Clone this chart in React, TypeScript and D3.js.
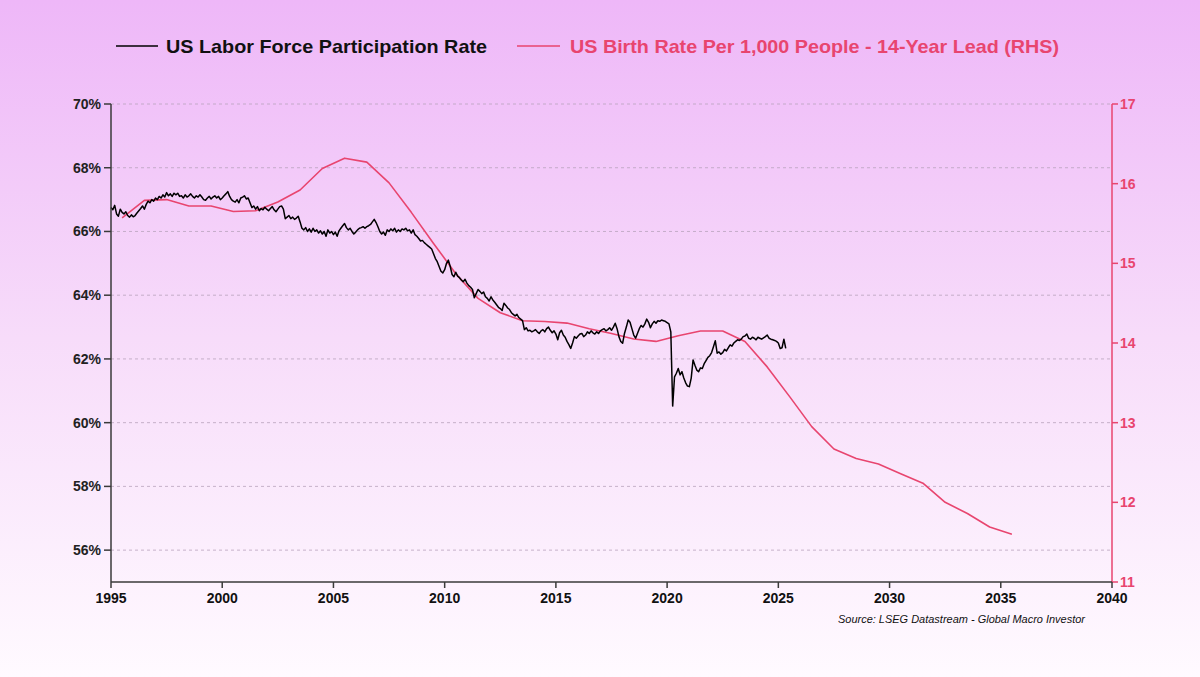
import * as d3 from "d3"

// US labor force participation rate, monthly, Jan 1995 onwards (%)
const lfprStartYear = 1995
const lfpr1995 = [66.75, 66.68, 66.82, 66.55, 66.48, 66.70, 66.60, 66.55, 66.62, 66.50, 66.45, 66.52]
const lfpr1996 = [66.46, 66.50, 66.58, 66.65, 66.72, 66.80, 66.70, 66.85, 66.95, 66.90, 67.00, 66.95]
const lfpr1997 = [67.05, 67.00, 67.10, 67.05, 67.15, 67.08, 67.22, 67.12, 67.18, 67.10, 67.20, 67.15]
const lfpr1998 = [67.20, 67.10, 67.12, 67.05, 67.15, 67.08, 67.12, 67.18, 67.10, 67.05, 67.12, 67.08]
const lfpr1999 = [67.15, 67.08, 67.00, 66.98, 67.05, 67.10, 67.02, 67.08, 67.12, 67.05, 67.10, 67.00]
const lfpr2000 = [67.05, 67.12, 67.18, 67.25, 67.10, 67.00, 66.95, 66.92, 67.00, 66.90, 67.05, 67.08]
const lfpr2001 = [67.12, 67.02, 67.05, 66.90, 66.75, 66.80, 66.70, 66.78, 66.65, 66.72, 66.68, 66.76]
const lfpr2002 = [66.70, 66.65, 66.72, 66.78, 66.68, 66.62, 66.70, 66.78, 66.80, 66.70, 66.40, 66.45]
const lfpr2003 = [66.50, 66.40, 66.45, 66.38, 66.42, 66.48, 66.30, 66.10, 66.05, 66.12, 66.00, 66.08]
const lfpr2004 = [65.98, 66.10, 66.00, 66.05, 65.95, 66.02, 65.92, 66.00, 65.85, 66.05, 65.95, 66.00]
const lfpr2005 = [65.90, 65.98, 65.85, 66.02, 66.10, 66.18, 66.25, 66.12, 66.05, 66.10, 66.00, 65.92]
const lfpr2006 = [65.98, 66.05, 66.10, 66.12, 66.15, 66.10, 66.15, 66.18, 66.22, 66.30, 66.38, 66.28]
const lfpr2007 = [66.15, 66.00, 65.92, 65.98, 65.88, 66.05, 66.00, 66.08, 66.02, 66.10, 65.98, 66.05]
const lfpr2008 = [66.00, 66.08, 66.05, 66.10, 66.02, 66.05, 65.95, 66.05, 65.90, 65.85, 65.78, 65.70]
const lfpr2009 = [65.72, 65.65, 65.60, 65.55, 65.50, 65.45, 65.30, 65.15, 65.05, 64.90, 64.75, 64.70]
const lfpr2010 = [64.80, 65.00, 65.10, 64.90, 64.65, 64.58, 64.72, 64.60, 64.55, 64.48, 64.42, 64.50]
const lfpr2011 = [64.38, 64.30, 64.25, 64.18, 63.92, 64.05, 64.18, 64.12, 64.05, 64.10, 63.95, 63.90]
const lfpr2012 = [63.82, 63.95, 63.85, 63.78, 63.70, 63.62, 63.58, 63.52, 63.75, 63.68, 63.60, 63.55]
const lfpr2013 = [63.45, 63.40, 63.35, 63.40, 63.30, 63.25, 63.20, 62.92, 62.98, 62.88, 62.90, 62.85]
const lfpr2014 = [62.88, 62.92, 62.85, 62.80, 62.88, 62.92, 62.85, 62.95, 63.00, 62.90, 62.82, 62.88]
const lfpr2015 = [62.78, 62.60, 62.82, 62.90, 62.75, 62.68, 62.55, 62.45, 62.33, 62.50, 62.70, 62.65]
const lfpr2016 = [62.72, 62.78, 62.80, 62.70, 62.75, 62.85, 62.80, 62.88, 62.82, 62.78, 62.85, 62.80]
const lfpr2017 = [62.88, 62.92, 62.95, 62.88, 62.92, 62.98, 62.90, 63.00, 63.12, 62.95, 62.70, 62.55]
const lfpr2018 = [62.49, 62.80, 63.00, 63.22, 63.15, 62.95, 62.75, 62.65, 62.80, 62.95, 63.05, 63.00]
const lfpr2019 = [63.10, 63.25, 63.15, 62.98, 63.10, 63.18, 63.12, 63.20, 63.18, 63.22, 63.20, 63.18]
const lfpr2020 = [63.14, 63.10, 62.85, 60.52, 61.44, 61.55, 61.70, 61.50, 61.60, 61.40, 61.25, 61.15]
const lfpr2021 = [61.13, 61.40, 61.97, 61.80, 61.65, 61.60, 61.72, 61.70, 61.85, 61.95, 62.05, 62.10]
const lfpr2022 = [62.20, 62.38, 62.57, 62.18, 62.22, 62.15, 62.20, 62.30, 62.25, 62.35, 62.44, 62.40]
const lfpr2023 = [62.50, 62.55, 62.60, 62.58, 62.62, 62.70, 62.72, 62.78, 62.65, 62.62, 62.68, 62.65]
const lfpr2024 = [62.60, 62.68, 62.65, 62.62, 62.66, 62.70, 62.75, 62.65, 62.62, 62.60, 62.58, 62.55]
const lfpr2025 = [62.50, 62.33, 62.35, 62.62, 62.33]

const lfprYears = [
  lfpr1995, lfpr1996, lfpr1997, lfpr1998, lfpr1999, lfpr2000, lfpr2001, lfpr2002,
  lfpr2003, lfpr2004, lfpr2005, lfpr2006, lfpr2007, lfpr2008, lfpr2009, lfpr2010,
  lfpr2011, lfpr2012, lfpr2013, lfpr2014, lfpr2015, lfpr2016, lfpr2017, lfpr2018,
  lfpr2019, lfpr2020, lfpr2021, lfpr2022, lfpr2023, lfpr2024, lfpr2025,
]

// US birth rate per 1,000 people, shifted 14 years forward (plotted mid-year)
const birthYears = [
  1995.5, 1996.5, 1997.5, 1998.5, 1999.5, 2000.5, 2001.5, 2002.5, 2003.5, 2004.5,
  2005.5, 2006.5, 2007.5, 2008.5, 2009.5, 2010.5, 2011.5, 2012.5, 2013.5, 2014.5,
  2015.5, 2016.5, 2017.5, 2018.5, 2019.5, 2020.5, 2021.5, 2022.5, 2023.5, 2024.5,
  2025.5, 2026.5, 2027.5, 2028.5, 2029.5, 2030.5, 2031.5, 2032.5, 2033.5, 2034.5,
  2035.5,
]
const birthRate = [
  15.57, 15.79, 15.80, 15.72, 15.72, 15.65, 15.66, 15.77, 15.92, 16.19,
  16.32, 16.27, 16.01, 15.64, 15.25, 14.87, 14.56, 14.38, 14.28, 14.27,
  14.25, 14.18, 14.12, 14.05, 14.02, 14.09, 14.15, 14.15, 14.02, 13.70,
  13.33, 12.95, 12.67, 12.55, 12.48, 12.36, 12.24, 12.00, 11.86, 11.69,
  11.60,
]

const xTicks = [1995, 2000, 2005, 2010, 2015, 2020, 2025, 2030, 2035, 2040]
const leftTicks = [56, 58, 60, 62, 64, 66, 68, 70]
const rightTicks = [11, 12, 13, 14, 15, 16, 17]

const W = 1200
const H = 677
const margin = { top: 104, right: 88, bottom: 95, left: 111 }
const PINK = "#E8456F"
const AXIS = "#3a3a3a"
const FONT = "'Liberation Sans', Arial, sans-serif"

export default function App() {
  const x = d3.scaleLinear().domain([1995, 2040]).range([margin.left, W - margin.right])
  const yL = d3.scaleLinear().domain([55, 70]).range([H - margin.bottom, margin.top])
  const yR = d3.scaleLinear().domain([11, 17]).range([H - margin.bottom, margin.top])

  const lfpr = lfprYears.flatMap((vals, yi) =>
    vals.map((v, m) => ({ t: lfprStartYear + yi + m / 12, v })),
  )
  const birth = birthYears.map((t, i) => ({ t, v: birthRate[i] }))

  const lfprLine = d3
    .line<{ t: number; v: number }>()
    .x((d) => x(d.t))
    .y((d) => yL(d.v))
  const birthLine = d3
    .line<{ t: number; v: number }>()
    .x((d) => x(d.t))
    .y((d) => yR(d.v))

  const x0 = x.range()[0]
  const x1 = x.range()[1]
  const yBottom = yL.range()[0]

  return (
    <svg
      width={W}
      height={H}
      style={{ position: "absolute", left: 0, top: 0, display: "block" }}
      fontFamily={FONT}
    >
      <defs>
        <linearGradient id="bg" x1="0" y1="0" x2="0" y2="1">
          <stop offset="0" stopColor="#EEB7F8" />
          <stop offset="0.5" stopColor="#F7DCFA" />
          <stop offset="1" stopColor="#FFFAFF" />
        </linearGradient>
      </defs>
      <rect width={W} height={H} fill="url(#bg)" />

      {/* Legend */}
      <line x1={116} x2={158} y1={46} y2={46} stroke="#000" strokeWidth={1.5} />
      <text x={166} y={53} fontSize={19} fontWeight="bold" fill="#111" textLength={321} lengthAdjust="spacingAndGlyphs">
        US Labor Force Participation Rate
      </text>
      <line x1={517} x2={560} y1={46} y2={46} stroke={PINK} strokeWidth={1.5} />
      <text x={570} y={53} fontSize={19} fontWeight="bold" fill={PINK} textLength={489} lengthAdjust="spacingAndGlyphs">
        US Birth Rate Per 1,000 People - 14-Year Lead (RHS)
      </text>

      {/* Gridlines */}
      {leftTicks.map((t) => (
        <line
          key={`g${t}`}
          x1={x0}
          x2={x1}
          y1={yL(t)}
          y2={yL(t)}
          stroke="#B9A3BC"
          strokeWidth={0.8}
          strokeDasharray="3,3"
        />
      ))}

      {/* Series */}
      <path d={birthLine(birth) ?? ""} fill="none" stroke={PINK} strokeWidth={1.6} strokeLinejoin="round" />
      <path d={lfprLine(lfpr) ?? ""} fill="none" stroke="#000" strokeWidth={1.5} strokeLinejoin="round" />

      {/* Left axis */}
      <line x1={x0} x2={x0} y1={margin.top} y2={yBottom} stroke={AXIS} strokeWidth={1.5} />
      {leftTicks.map((t) => (
        <g key={`l${t}`}>
          <line x1={x0 - 7} x2={x0} y1={yL(t)} y2={yL(t)} stroke={AXIS} strokeWidth={1.5} />
          <text x={x0 - 10} y={yL(t) + 5} textAnchor="end" fontSize={14} fontWeight="bold" fill="#222">
            {t}%
          </text>
        </g>
      ))}

      {/* Right axis */}
      <line x1={x1} x2={x1} y1={margin.top} y2={yBottom} stroke={PINK} strokeWidth={1.5} />
      {rightTicks.map((t) => (
        <g key={`r${t}`}>
          <line x1={x1} x2={x1 + 6} y1={yR(t)} y2={yR(t)} stroke={PINK} strokeWidth={1.5} />
          <text x={x1 + 8} y={yR(t) + 5} fontSize={14} fontWeight="bold" fill={PINK}>
            {t}
          </text>
        </g>
      ))}

      {/* Bottom axis */}
      <line x1={x0} x2={x1} y1={yBottom} y2={yBottom} stroke={AXIS} strokeWidth={1.5} />
      {xTicks.map((t) => (
        <g key={`x${t}`}>
          <line x1={x(t)} x2={x(t)} y1={yBottom} y2={yBottom + 6} stroke={AXIS} strokeWidth={1.5} />
          <text x={x(t)} y={yBottom + 21} textAnchor="middle" fontSize={14} fontWeight="bold" fill="#111">
            {t}
          </text>
        </g>
      ))}

      {/* Source */}
      <text x={1085} y={623} textAnchor="end" fontSize={11} fontStyle="italic" fill="#111" textLength={247} lengthAdjust="spacingAndGlyphs">
        Source: LSEG Datastream - Global Macro Investor
      </text>
    </svg>
  )
}
